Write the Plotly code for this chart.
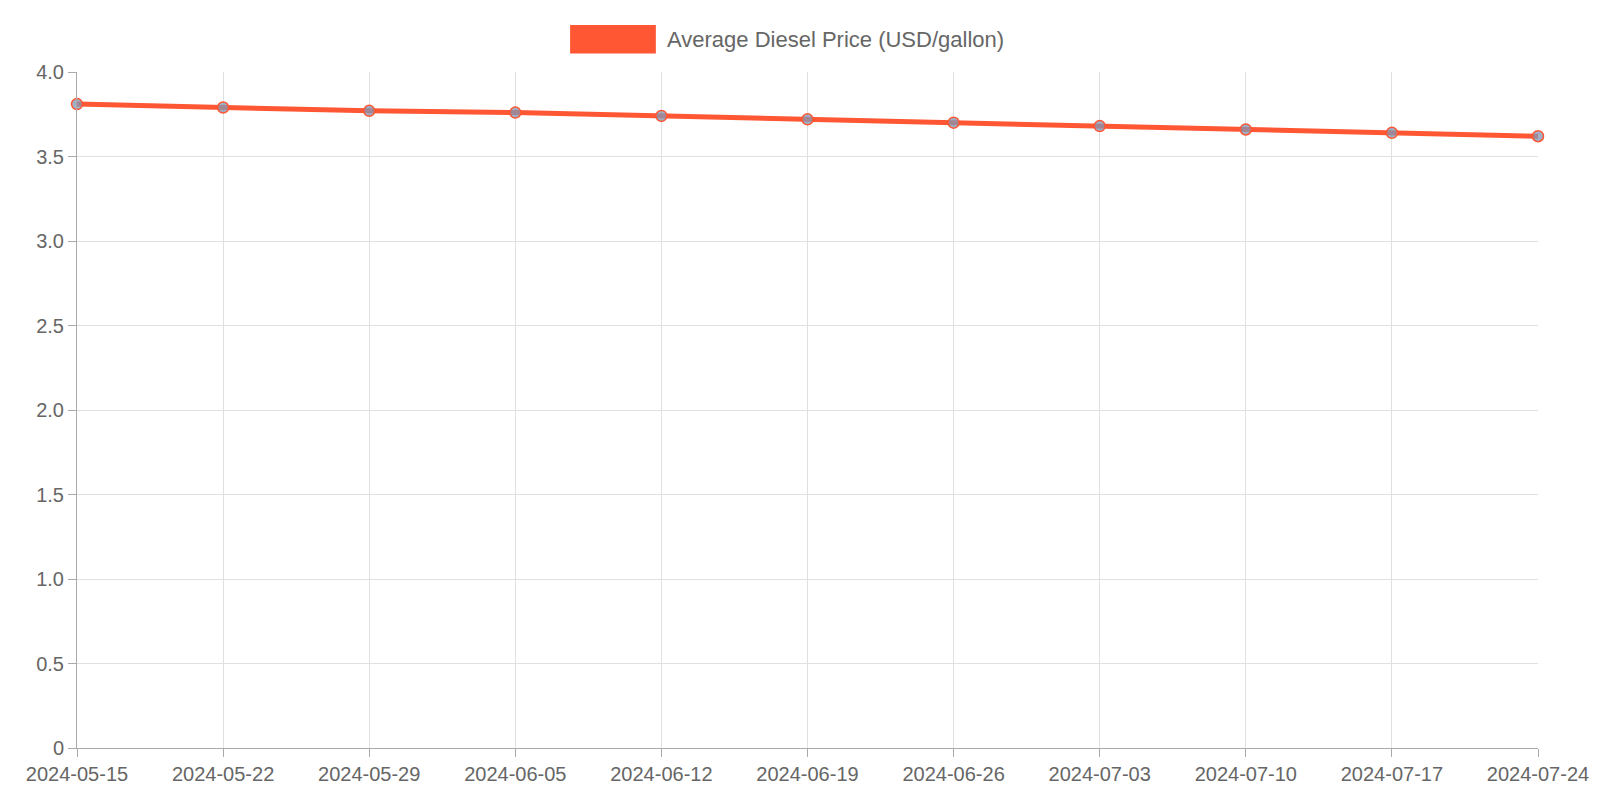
import plotly.graph_objects as go

dates = ["2024-05-15", "2024-05-22", "2024-05-29", "2024-06-05", "2024-06-12", "2024-06-19",
         "2024-06-26", "2024-07-03", "2024-07-10", "2024-07-17", "2024-07-24"]
prices = [3.81, 3.79, 3.77, 3.76, 3.74, 3.72, 3.70, 3.68, 3.66, 3.64, 3.62]
y_ticks = [0, 0.5, 1.0, 1.5, 2.0, 2.5, 3.0, 3.5, 4.0]
y_labels = ["0", "0.5", "1.0", "1.5", "2.0", "2.5", "3.0", "3.5", "4.0"]
series_name = "Average Diesel Price (USD/gallon)"

ORANGE = "#ff5733"
FONT = dict(family="Liberation Sans, Arial, sans-serif", size=20, color="#666666")

fig = go.Figure()
fig.add_trace(go.Scatter(
    x=list(range(len(dates))), y=prices, mode="lines+markers", name=series_name,
    line=dict(color=ORANGE, width=5),
    marker=dict(size=11, color="rgba(130,150,180,0.75)", line=dict(color=ORANGE, width=1.5)),
    cliponaxis=False,
))

fig.update_layout(
    width=1600, height=800, showlegend=False,
    margin=dict(l=69, r=70, t=64, b=60),
    paper_bgcolor="white", plot_bgcolor="white", font=FONT,
    xaxis=dict(range=[0, len(dates) - 1], tickvals=list(range(len(dates))), ticktext=dates,
               showgrid=True, gridcolor="#e0e0e0", showline=True, linecolor="#aaaaaa",
               ticks="outside", ticklen=8, tickcolor="#aaaaaa", zeroline=False),
    yaxis=dict(range=[0, 4.0], tickvals=y_ticks, ticktext=y_labels,
               showgrid=True, gridcolor="#e0e0e0", showline=True, linecolor="#aaaaaa",
               ticks="outside", ticklen=8, tickcolor="#aaaaaa", zeroline=False),
)

# Chart.js-style legend box
fig.add_shape(type="rect", xref="paper", yref="paper", x0=0.3375, x1=0.3962, y0=1.0272, y1=1.0695,
              fillcolor=ORANGE, line=dict(width=0))
fig.add_annotation(xref="paper", yref="paper", x=0.4025, y=1.048, text=series_name,
                   showarrow=False, xanchor="left", yanchor="middle", font=dict(size=22, color="#666666"))

fig.write_html("out.html")
